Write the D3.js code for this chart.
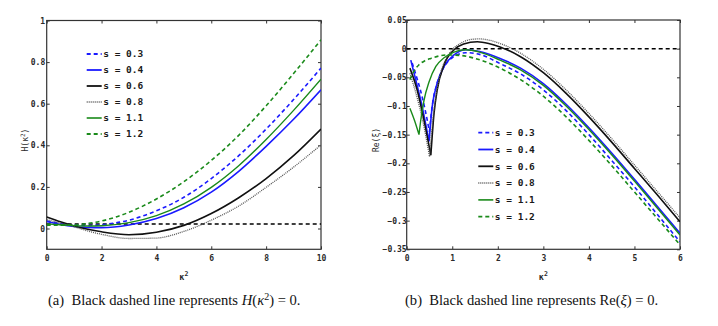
<!DOCTYPE html>
<html><head><meta charset="utf-8">
<script src="https://cdn.jsdelivr.net/npm/d3@7"></script>
<style>
html,body{margin:0;padding:0;background:#fff;}
svg{display:block;}
</style></head>
<body>
<svg id="c" width="718" height="326"></svg>
<script>
// ---------- data ----------
const seriesLabels = ["s = 0.3", "s = 0.4", "s = 0.6", "s = 0.8", "s = 1.1", "s = 1.2"];

// Panel (a): H(kappa^2)
const kappaA = [0, 0.5, 1, 1.5, 2, 3, 4, 5, 6, 7, 8, 9, 10];
const hS03 = [0.036, 0.024, 0.016, 0.014, 0.018, 0.040, 0.085, 0.150, 0.240, 0.350, 0.478, 0.620, 0.771];
const hS04 = [0.034, 0.020, 0.010, 0.005, 0.004, 0.017, 0.048, 0.100, 0.175, 0.275, 0.395, 0.525, 0.667];
const hS06 = [0.055, 0.032, 0.012, -0.004, -0.016, -0.030, -0.018, 0.015, 0.072, 0.148, 0.240, 0.350, 0.478];
const hS08 = [0.042, 0.026, 0.008, -0.012, -0.028, -0.048, -0.046, -0.014, 0.040, 0.108, 0.198, 0.295, 0.402];
const hS11 = [0.022, 0.018, 0.014, 0.012, 0.013, 0.028, 0.062, 0.118, 0.198, 0.302, 0.428, 0.568, 0.718];
const hS12 = [0.016, 0.016, 0.017, 0.024, 0.036, 0.078, 0.142, 0.225, 0.327, 0.448, 0.590, 0.745, 0.907];
const hRefLevel = 0.022;
const ticksAx = [0, 2, 4, 6, 8, 10];
const ticksAy = [0, 0.2, 0.4, 0.6, 0.8, 1];

// Panel (b): Re(xi) as [kappa^2, value]
const reS03 = [[0.12,-0.025],[0.2,-0.045],[0.3,-0.072],[0.4,-0.105],[0.5,-0.145],[0.56,-0.1],[0.65,-0.065],[0.75,-0.043],[0.9,-0.023],[1.05,-0.013],[1.3,-0.007],[1.6,-0.01],[2.05,-0.026],[2.5,-0.044],[3,-0.072],[3.5,-0.108],[4,-0.15],[4.5,-0.195],[5,-0.241],[5.5,-0.289],[6,-0.337]];
const reS04 = [[0.09,-0.02],[0.2,-0.055],[0.34,-0.101],[0.49,-0.162],[0.56,-0.101],[0.67,-0.06],[0.82,-0.031],[1.04,-0.011],[1.3,-0.002],[1.6,-0.005],[2.05,-0.017],[2.5,-0.034],[3,-0.061],[3.5,-0.097],[4,-0.138],[4.5,-0.182],[5,-0.228],[5.5,-0.275],[6,-0.322]];
const reS06 = [[0.07,-0.034],[0.23,-0.072],[0.38,-0.125],[0.53,-0.186],[0.6,-0.113],[0.67,-0.072],[0.82,-0.028],[1.04,-0.002],[1.25,0.008],[1.55,0.012],[1.8,0.009],[2.05,0.003],[2.5,-0.014],[3,-0.042],[3.5,-0.078],[4,-0.119],[4.5,-0.163],[5,-0.209],[5.5,-0.255],[6,-0.302]];
const reS08 = [[0.07,-0.043],[0.2,-0.077],[0.35,-0.125],[0.5,-0.188],[0.56,-0.135],[0.63,-0.088],[0.72,-0.05],[0.85,-0.02],[1.0,-0.002],[1.2,0.01],[1.4,0.016],[1.6,0.017],[1.8,0.015],[2.05,0.009],[2.5,-0.008],[3,-0.036],[3.5,-0.072],[4,-0.113],[4.5,-0.157],[5,-0.203],[5.5,-0.249],[6,-0.295]];
const reS11 = [[0.07,-0.104],[0.17,-0.125],[0.27,-0.15],[0.31,-0.124],[0.38,-0.09],[0.49,-0.058],[0.64,-0.031],[0.82,-0.016],[1.04,-0.006],[1.3,-0.002],[1.6,-0.006],[2.05,-0.02],[2.5,-0.037],[3,-0.064],[3.5,-0.1],[4,-0.141],[4.5,-0.185],[5,-0.231],[5.5,-0.278],[6,-0.325]];
const reS12 = [[0.07,-0.054],[0.17,-0.038],[0.27,-0.028],[0.4,-0.021],[0.53,-0.017],[0.7,-0.013],[0.9,-0.011],[1.2,-0.012],[1.5,-0.017],[1.8,-0.025],[2.05,-0.034],[2.5,-0.054],[3,-0.083],[3.5,-0.119],[4,-0.16],[4.5,-0.204],[5,-0.25],[5.5,-0.296],[6,-0.342]];
const reRefLevel = 0;
const ticksBx = [0, 1, 2, 3, 4, 5, 6];
const ticksBy = [0.05, 0, -0.05, -0.1, -0.15, -0.2, -0.25, -0.3, -0.35];

// ---------- styles ----------
const colors = ["#1a1aff", "#1a1aff", "#111111", "#555555", "#1a8a1a", "#1a8a1a"];
const dashes = ["4,3", null, null, "1,1", null, "4,3"];
const widths = [1.6, 1.6, 1.6, 1.3, 1.4, 1.6];

const svg = d3.select("#c");
const monoFont = "'DejaVu Sans Mono', monospace";

function panel(opts) {
  const x = d3.scaleLinear().domain(opts.xDomain).range(opts.xRange);
  const y = d3.scaleLinear().domain(opts.yDomain).range(opts.yRange);
  const g = svg.append("g");
  const [x0, x1] = opts.xRange, [y0, y1] = opts.yRange;

  const cid = "clip" + opts.id;
  svg.append("clipPath").attr("id", cid).append("rect")
    .attr("x", x0).attr("y", y1).attr("width", x1 - x0).attr("height", y0 - y1);

  const fmt = d => (d === 0 ? "0" : d3.format("")(+d.toFixed(2)));
  const bottom = g.append("g").attr("transform", `translate(0,${y0})`)
    .call(d3.axisBottom(x).tickValues(opts.xTicks).tickSizeInner(-3).tickSizeOuter(0).tickPadding(6).tickFormat(fmt));
  const left = g.append("g").attr("transform", `translate(${x0},0)`)
    .call(d3.axisLeft(y).tickValues(opts.yTicks).tickSizeInner(-3).tickSizeOuter(0).tickPadding(opts.yPad).tickFormat(fmt));
  const top = g.append("g").attr("transform", `translate(0,${y1})`)
    .call(d3.axisTop(x).tickValues(opts.xTicks).tickSizeInner(-3).tickSizeOuter(0).tickFormat(""));
  const right = g.append("g").attr("transform", `translate(${x1},0)`)
    .call(d3.axisRight(y).tickValues(opts.yTicks).tickSizeInner(-3).tickSizeOuter(0).tickFormat(""));
  [bottom, left, top, right].forEach(a => {
    a.select(".domain").remove();
    a.selectAll("line").attr("stroke", "#333").attr("stroke-width", 1);
    a.selectAll("text").attr("font-family", monoFont).attr("font-size", 8)
      .attr("font-weight", "bold").attr("fill", "#2a2a2a");
  });
  g.append("rect").attr("x", x0).attr("y", y1).attr("width", x1 - x0).attr("height", y0 - y1)
    .attr("fill", "none").attr("stroke", "#333").attr("stroke-width", 1.2);

  g.append("line").attr("x1", x(opts.xDomain[0])).attr("x2", x(opts.xDomain[1]))
    .attr("y1", y(opts.ref)).attr("y2", y(opts.ref))
    .attr("stroke", "#000").attr("stroke-width", 1.5).attr("stroke-dasharray", "4,3");

  const line = d3.line().x(d => x(d[0])).y(d => y(d[1])).curve(d3.curveMonotoneX);
  const cg = g.append("g").attr("clip-path", `url(#${cid})`);
  opts.series.forEach((pts, i) => {
    let segs = [pts];
    if (opts.splitCusp) {
      let mi = 0;
      pts.forEach((p, j) => { if (p[0] < 0.8 && p[1] < pts[mi][1]) mi = j; });
      segs = [pts.slice(0, mi + 1), pts.slice(mi)];
    }
    const dStr = segs.filter(s => s.length > 1).map(s => line(s)).join("");
    cg.append("path").attr("d", dStr).attr("fill", "none")
      .attr("stroke", colors[i]).attr("stroke-width", widths[i])
      .attr("stroke-dasharray", dashes[i]);
  });

  const lg = g.append("g");
  seriesLabels.forEach((lab, i) => {
    const yy = opts.legY + i * opts.legDy;
    lg.append("line").attr("x1", opts.legX).attr("x2", opts.legX + 15)
      .attr("y1", yy).attr("y2", yy)
      .attr("stroke", colors[i]).attr("stroke-width", widths[i] + 0.2)
      .attr("stroke-dasharray", dashes[i]);
    lg.append("text").attr("x", opts.legX + 16.5).attr("y", yy).attr("dy", "0.35em")
      .attr("font-family", monoFont).attr("font-size", 9.5).attr("font-weight", "bold")
      .attr("fill", "#1a1a1a").text(lab);
  });

  const xl = g.append("text").attr("x", (x0 + x1) / 2).attr("y", 280)
    .attr("text-anchor", "middle").attr("font-family", monoFont).attr("font-size", 8.5)
    .attr("font-weight", "bold").attr("fill", "#2a2a2a");
  xl.append("tspan").text("\u03BA");
  xl.append("tspan").attr("dy", -4).attr("font-size", 6.5).text("2");

  const yl = g.append("text").attr("transform", `translate(${opts.yLabX},140) rotate(-90)`)
    .attr("text-anchor", "middle").attr("font-family", monoFont).attr("font-size", 8)
    .attr("fill", "#2a2a2a");
  opts.yLabel(yl);
}

panel({
  id: "a", xDomain: [0, 10], xRange: [46.7, 321], yDomain: [-0.1, 1], yRange: [249.3, 20.5],
  xTicks: ticksAx, yTicks: ticksAy, yPad: 1.5, ref: hRefLevel,
  series: [hS03, hS04, hS06, hS08, hS11, hS12].map(v => kappaA.map((k, j) => [k, v[j]])),
  splitCusp: false, legX: 86.7, legY: 54, legDy: 16,
  yLabX: 28,
  yLabel: t => { t.append("tspan").text("H(\u03BA"); t.append("tspan").attr("dy", -3).attr("font-size", 6).text("2"); t.append("tspan").attr("dy", 3).text(")"); }
});

panel({
  id: "b", xDomain: [0, 6], xRange: [406.7, 680], yDomain: [-0.35, 0.05], yRange: [249.3, 20],
  xTicks: ticksBx, yTicks: ticksBy, yPad: 0, ref: reRefLevel,
  series: [reS03, reS04, reS06, reS08, reS11, reS12],
  splitCusp: true, legX: 478.3, legY: 132.7, legDy: 16.8,
  yLabX: 379,
  yLabel: t => { t.text("Re(\u03BE)"); }
});

// captions
const capFont = "'Liberation Serif', 'Times New Roman', serif";
const capA = svg.append("text").attr("x", 48).attr("y", 305).attr("font-family", capFont)
  .attr("font-size", 14.6).attr("fill", "#111");
capA.append("tspan").text("(a)\u00A0 Black dashed line represents ");
capA.append("tspan").attr("font-style", "italic").text("H");
capA.append("tspan").text("(");
capA.append("tspan").attr("font-style", "italic").text("\u03BA");
capA.append("tspan").attr("dy", -5.5).attr("font-size", 10).text("2");
capA.append("tspan").attr("dy", 5.5).text(") = 0.");

const capB = svg.append("text").attr("x", 405).attr("y", 305).attr("font-family", capFont)
  .attr("font-size", 14.6).attr("fill", "#111");
capB.append("tspan").text("(b)\u00A0 Black dashed line represents Re(");
capB.append("tspan").attr("font-style", "italic").text("\u03BE");
capB.append("tspan").text(") = 0.");
</script>
</body></html>
